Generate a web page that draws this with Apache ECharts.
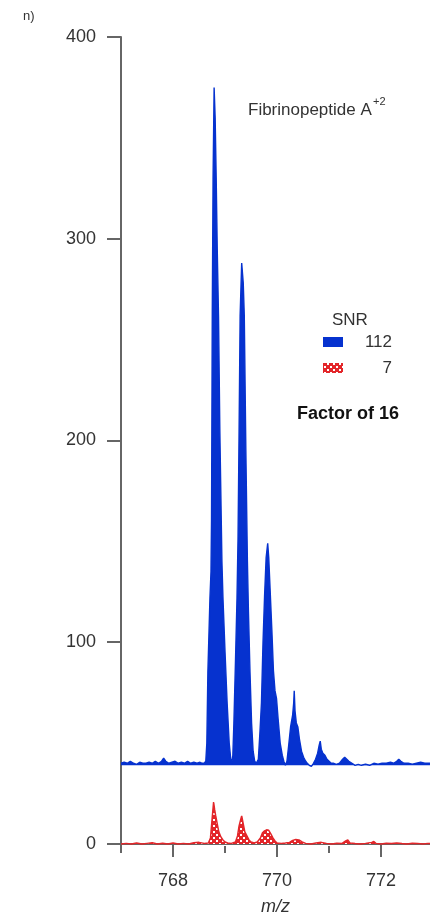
<!DOCTYPE html>
<html><head><meta charset="utf-8">
<script src="https://cdn.jsdelivr.net/npm/echarts@6/dist/echarts.min.js"></script>
<style>html,body{margin:0;padding:0;background:#fff}#c{width:430px;height:921px}</style>
</head><body><div id="c"></div>
<script>
// ---- data ----
const yTickValues = [0, 100, 200, 300, 400];
const xLabelValues = [768, 770, 772];
const xMinorTickValues = [767, 769, 771];
const legendTitle = 'SNR';
const legendLabels = ['112', '7'];
const compoundName = 'Fibrinopeptide A';
const chargeLabel = '+2';
const factorLabel = 'Factor of 16';
const panelLabel = 'n)';
const xAxisName = 'm/z';

// high-SNR spectrum (displayed with baseline offset ~40)
const blueSeries = [
 [767.00,40],[767.06,40.5],[767.12,40],[767.18,41],[767.24,40],[767.30,39.5],[767.36,40.5],[767.42,40],
 [767.48,40],[767.54,40.5],[767.60,40],[767.66,41],[767.72,40],[767.78,41],[767.82,42.5],[767.86,41],
 [767.92,40],[767.98,40.5],[768.04,41],[768.10,40],[768.16,40.5],[768.22,40],[768.28,41],[768.34,40],
 [768.40,40.5],[768.46,40],[768.52,40.5],[768.56,40],[768.60,40],[768.63,41],
 [768.65,50],[768.67,85],[768.71,122],[768.73,135],[768.74,160],[768.755,265],[768.77,330],[768.79,375],
 [768.81,360],[768.83,330],[768.85,295],[768.875,261],[768.90,205],[768.94,140],[768.96,122],[769.00,95],
 [769.04,70],[769.08,50],[769.11,42],[769.13,40],
 [769.15,44],[769.17,60],[769.20,90],[769.23,122],[769.25,152],[769.27,205],[769.29,262],[769.32,288],
 [769.35,278],[769.37,262],[769.40,195],[769.43,140],[769.45,115],[769.48,85],[769.51,60],[769.54,46],
 [769.57,41],[769.60,40],
 [769.64,42],[769.67,55],[769.70,70],[769.73,100],[769.76,123],[769.79,142],[769.82,149],[769.84,142],
 [769.87,124],[769.90,106],[769.93,86],[769.96,76],[769.99,72],[770.02,62],[770.06,50],[770.10,44],
 [770.13,41],[770.16,39],
 [770.19,41],[770.22,48],[770.26,58],[770.30,64],[770.32,70],[770.33,76],[770.345,66],[770.37,60],
 [770.40,58],[770.43,52],[770.47,46],[770.51,43],[770.55,41],[770.58,40],[770.62,39],[770.66,38.5],
 [770.70,40],[770.74,42],[770.78,45],[770.81,49],[770.83,51],[770.85,47],[770.88,45],[770.92,44],
 [770.96,42],[771.00,41],[771.04,40],
 [771.08,40],[771.14,39.5],[771.20,40],[771.26,42],[771.30,43],[771.34,42],[771.38,41],[771.44,40],
 [771.50,39],[771.56,39.5],[771.62,39],[771.70,39.5],[771.78,39],[771.86,40],[771.94,39.5],[772.02,40],
 [772.10,40],[772.18,40.5],[772.24,40],[772.30,41],[772.34,42],[772.38,41],[772.44,40],[772.52,40],
 [772.60,39.5],[772.68,40],[772.76,40.5],[772.84,40],[772.92,40],[773.00,40]
];

// low-SNR spectrum
const redSeries = [
 [767.0,0],[767.1,0.3],[767.2,0],[767.3,0.5],[767.4,0],[767.5,0.3],[767.6,0.6],[767.7,0],[767.8,0.4],
 [767.9,0],[768.0,0.5],[768.1,0],[768.2,0.3],[768.3,0],[768.4,0.6],[768.5,0.8],[768.6,0.3],[768.68,0.5],
 [768.72,3],[768.75,12],[768.78,20.8],[768.80,17],[768.82,14],[768.85,10],[768.88,6],[768.92,3.5],
 [768.96,2],[769.00,1],[769.05,0.5],[769.12,0.3],[769.20,1],[769.24,4],[769.27,9],[769.30,12],
 [769.32,13.9],[769.35,10],[769.38,6],[769.42,4],[769.46,2],[769.50,1],[769.56,0.5],[769.62,1],
 [769.68,3],[769.72,5.5],[769.76,6.5],[769.80,7],[769.84,6.8],[769.88,5],[769.92,3],[769.96,1.5],
 [770.00,0.5],[770.08,0.3],[770.16,0.5],[770.24,0.8],[770.30,1.8],[770.36,2.2],[770.42,2],[770.48,1],
 [770.55,0.3],[770.65,0],[770.75,0.5],[770.85,0.8],[770.95,0.3],[771.05,0],[771.15,0.4],[771.25,0.3],
 [771.32,1.5],[771.36,2],[771.40,0.5],[771.50,0.2],[771.6,0],[771.7,0.3],[771.82,0.8],[771.86,1.2],
 [771.9,0.3],[772.0,0],[772.1,0.4],[772.2,0.2],[772.3,0.5],[772.4,0.2],[772.5,0],[772.6,0.4],
 [772.7,0.3],[772.8,0],[772.9,0.3],[773.0,0]
];

// ---- style ----
const FONT = "'Liberation Sans', Arial, Helvetica, sans-serif";
const BLUE = '#0632cf';
const RED = '#e3262a';
const AXIS = '#666';
const TXT = '#333';

const pc = document.createElement('canvas');
pc.width = 6; pc.height = 6;
const g = pc.getContext('2d');
g.fillStyle = RED; g.fillRect(0, 0, 6, 6);
g.fillStyle = '#fff'; g.fillRect(0, 0, 2, 2); g.fillRect(3, 3, 2, 2);
const redPattern = { image: pc, repeat: 'repeat' };

const chart = echarts.init(document.getElementById('c'), null, { renderer: 'canvas' });
chart.setOption({
  animation: false,
  grid: { left: 121, right: 0, top: 37, bottom: 72, containLabel: false },
  xAxis: [{
    type: 'value', min: 767, max: 772.94, position: 'bottom',
    axisLine: { show: true, lineStyle: { color: AXIS, width: 2 } },
    axisTick: { show: true, customValues: xLabelValues, length: 13, lineStyle: { color: AXIS, width: 2 } },
    axisLabel: { customValues: xLabelValues, margin: 26, fontSize: 18, color: TXT, fontFamily: FONT },
    splitLine: { show: false },
    name: xAxisName, nameLocation: 'middle', nameGap: 52,
    nameTextStyle: { fontSize: 18, fontStyle: 'italic', color: TXT, fontFamily: FONT }
  }, {
    type: 'value', min: 767, max: 772.94, position: 'bottom', offset: 0,
    axisLine: { show: false },
    axisTick: { show: true, customValues: xMinorTickValues, length: 7, lineStyle: { color: AXIS, width: 2 } },
    axisLabel: { show: false },
    splitLine: { show: false }
  }],
  yAxis: {
    type: 'value', min: -1, max: 400,
    axisLine: { show: true, lineStyle: { color: AXIS, width: 2 } },
    axisTick: { show: true, customValues: yTickValues, length: 14, lineStyle: { color: AXIS, width: 2 } },
    axisLabel: { customValues: yTickValues, margin: 25, fontSize: 18, color: TXT, fontFamily: FONT },
    splitLine: { show: false }
  },
  series: [{
    type: 'line', name: legendLabels[1], data: redSeries, symbol: 'none', smooth: false,
    lineStyle: { color: RED, width: 1.5 }, areaStyle: { color: redPattern, opacity: 1 }, z: 2
  }, {
    type: 'line', name: legendLabels[0], data: blueSeries, symbol: 'none', smooth: false,
    lineStyle: { color: BLUE, width: 1.4 }, areaStyle: { color: BLUE, opacity: 1, origin: 39 }, z: 3
  }],
  graphic: [
    { type: 'text', left: 23, top: 10, style: { text: panelLabel, fontSize: 13, fill: TXT, fontFamily: FONT } },
    { type: 'text', left: 248, top: 102, style: { text: compoundName, fontSize: 17, fill: TXT, fontFamily: FONT } },
    { type: 'text', left: 373, top: 96, style: { text: chargeLabel, fontSize: 11, fill: TXT, fontFamily: FONT } },
    { type: 'text', left: 332, top: 312, style: { text: legendTitle, fontSize: 17, fill: TXT, fontFamily: FONT } },
    { type: 'rect', shape: { x: 323, y: 337, width: 20, height: 10 }, style: { fill: BLUE } },
    { type: 'text', x: 392, y: 342, style: { text: legendLabels[0], fontSize: 17, fill: TXT, fontFamily: FONT, align: 'right', verticalAlign: 'middle' } },
    { type: 'rect', shape: { x: 323, y: 363, width: 20, height: 10 }, style: { fill: redPattern } },
    { type: 'text', x: 392, y: 368, style: { text: legendLabels[1], fontSize: 17, fill: TXT, fontFamily: FONT, align: 'right', verticalAlign: 'middle' } },
    { type: 'text', left: 297, top: 405, style: { text: factorLabel, fontSize: 18, fontWeight: 'bold', fill: '#111', fontFamily: FONT } }
  ]
});
</script>
</body></html>
